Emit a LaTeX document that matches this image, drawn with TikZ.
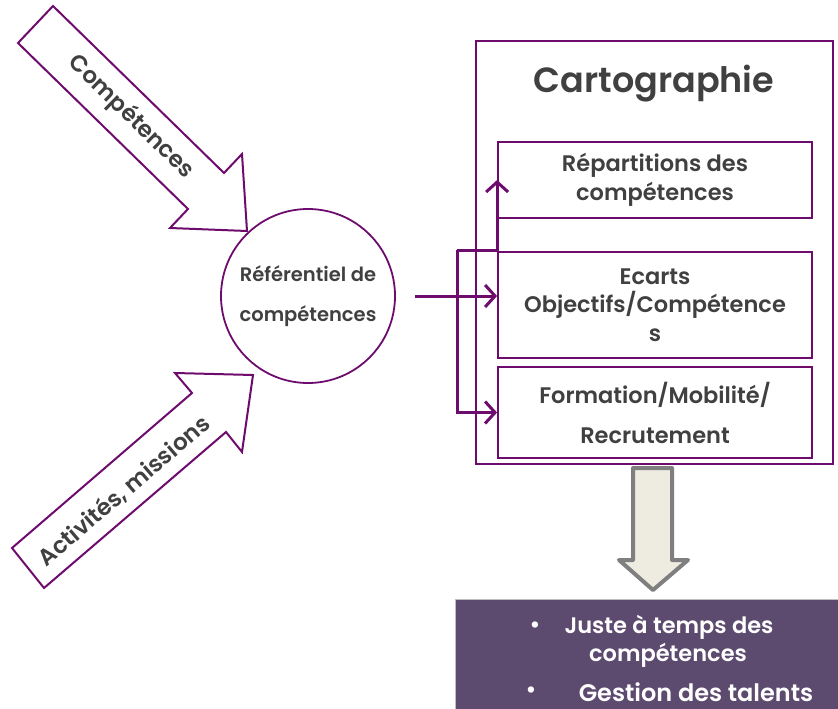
\documentclass[tikz,border=0pt]{standalone}
\usepackage{fontspec}
\IfFontExistsTF{Poppins SemiBold}{\setmainfont{Poppins}[BoldFont={Poppins SemiBold}]}{\setmainfont{Poppins}}
\usetikzlibrary{arrows.meta}
\definecolor{pur}{HTML}{6E0C6E}
\definecolor{txt}{HTML}{404040}
\definecolor{bfill}{HTML}{5D4A6F}
\definecolor{afill}{HTML}{EEECE1}
\definecolor{astroke}{HTML}{7F7F7F}
\tikzset{
  box/.style={draw=pur, line width=1.8pt, minimum width=314pt, inner sep=0pt, text=txt, align=center, font=\fontsize{22.5}{28.5}\selectfont\bfseries},
  conn/.style={draw=pur, line width=3pt, -{Straight Barb[length=10pt,width=22pt,line width=3pt]}},
  bigarrow/.style={draw=pur, line width=2pt, fill=white, line join=miter},
  arrowtext/.style={text=txt, font=\fontsize{23}{26}\selectfont\bfseries},
  wtext/.style={text=white, inner sep=1pt, font=\fontsize{22.5}{24}\selectfont\bfseries}
}
\begin{document}
\begin{tikzpicture}[x=1pt,y=-1pt]
\useasboundingbox (0,0) rectangle (838,709);
% outer box
\node[draw=pur, line width=1.8pt, minimum width=357pt, minimum height=423pt, inner sep=0pt] (carto) at (654.5,252.5) {};
\node[text=txt, font=\fontsize{35}{38}\selectfont\bfseries] (title) at (654,84) {Cartographie};
\node[box, minimum height=76pt] (b1) at (655,180) {Répartitions des\\compétences};
\node[box, minimum height=106pt] (b2) at (655,305) {Ecarts\\Objectifs/Compétence\\s};
\node[box, minimum height=91pt, font=\fontsize{22.5}{40}\selectfont\bfseries] (b3) at (655,412.5) {Formation/Mobilité/\\Recrutement};
% circle
\node[draw=pur, line width=1.8pt, circle, minimum size=174pt, inner sep=0pt, text=txt, align=center, font=\fontsize{19.5}{40}\selectfont\bfseries] (ref) at (308,296) {Référentiel de\\compétences};
% connectors
\coordinate (jt) at (457,250);
\draw[conn, shorten <=19pt] (ref.east) -- (ref.east -| b2.west);
\draw[conn] (jt) -- (jt -| b1.west) -- (b1.west);
\draw[conn] (jt) -- (jt |- b3.west) -- (b3.west);
% big arrows
\draw[bigarrow] (18,43) -- (53,6) -- (224,173) -- (242,154) -- (247,231) -- (170,228) -- (188,209) -- cycle;
\node[arrowtext, rotate=-44.3] (t1) at (131,117) {Compétences};
\draw[bigarrow] (12,548) -- (44,588) -- (226,432) -- (242,452) -- (253,375) -- (175,373) -- (192,393) -- cycle;
\node[arrowtext, rotate=40.6] (t2) at (124,491) {Activités, missions};
% down arrow
\draw[draw=astroke, fill=afill, line width=4pt, line join=round] (633,468) -- (672,468) -- (672,560) -- (688,560) -- (653,590) -- (619,560) -- (633,560) -- cycle;
% bottom box
\node[fill=bfill, draw=gray!50, line width=1pt, minimum width=384pt, minimum height=111pt, inner sep=0pt] (res) at (647,655) {};
\node[wtext] (u1) at (535,627) {•};
\node[wtext] (l1) at (669,627) {Juste à temps des};
\node[wtext] (l2) at (668,655) {compétences};
\node[wtext] (u2) at (531,692) {•};
\node[wtext, inner sep=0pt, font=\fontsize{24}{25}\selectfont\bfseries] (l3) at (696,692) {Gestion des talents};
\end{tikzpicture}
\end{document}
